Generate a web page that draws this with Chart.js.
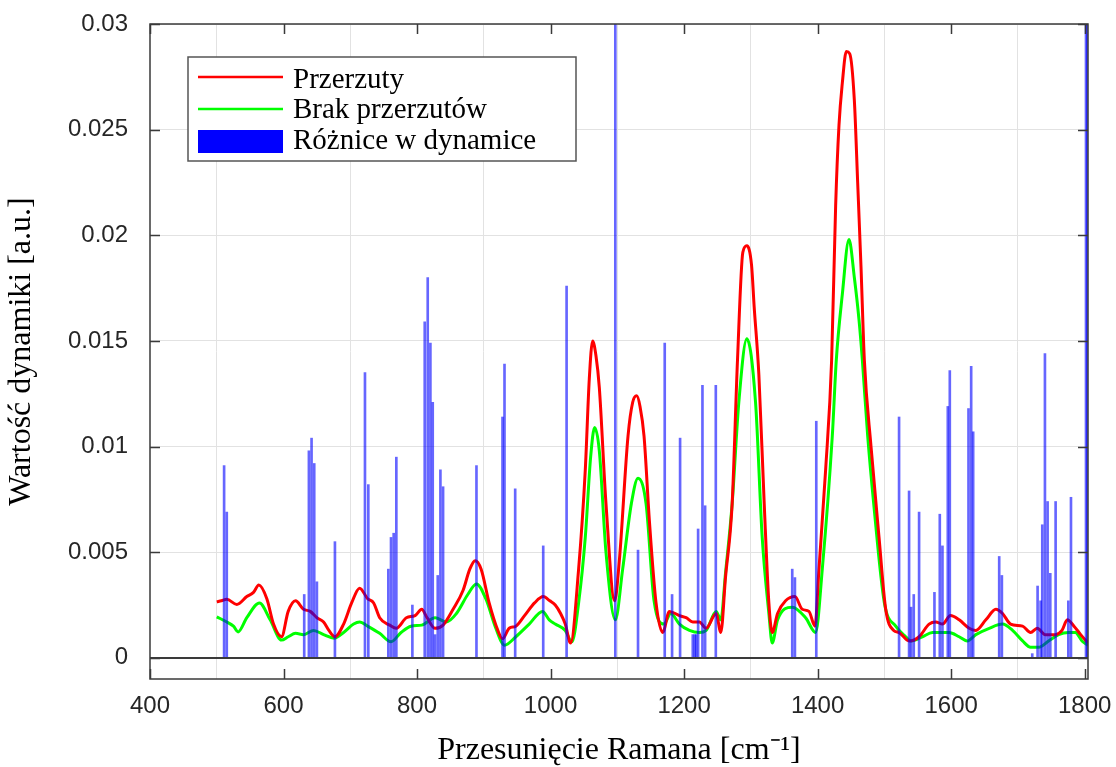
<!DOCTYPE html>
<html>
<head>
<meta charset="utf-8">
<script src="https://cdn.jsdelivr.net/npm/chart.js@4.4.0/dist/chart.umd.min.js"></script>
<style>
  html, body { margin: 0; padding: 0; background: #fff; }
  #chart { display: block; }
</style>
</head>
<body>
<canvas id="chart" width="1116" height="767"></canvas>
<script>
// Przerzuty (red line)
const shiftRed = [500, 507, 515, 530, 545, 555, 563, 575, 585, 597, 607, 618, 630, 640, 650, 660, 668, 677, 690, 702,
  714, 726, 735, 744, 759, 769, 784, 797, 807, 815, 827, 839, 854, 869, 879, 887, 896, 908, 921, 928,
  938, 948, 961, 976, 989, 999, 1007, 1015, 1022, 1030, 1042, 1052, 1058, 1063, 1068, 1073, 1083, 1096, 1103, 1116,
  1123, 1129, 1134, 1140, 1148, 1158, 1168, 1178, 1193, 1203, 1213, 1223, 1233, 1248, 1255, 1262, 1272, 1280, 1288, 1294,
  1301, 1305, 1312, 1320, 1327, 1332, 1340, 1352, 1366, 1377, 1387, 1396, 1402, 1412, 1421, 1427, 1432, 1437, 1443, 1448,
  1455, 1460, 1465, 1470, 1480, 1492, 1502, 1514, 1522, 1537, 1552, 1567, 1577, 1587, 1599, 1612, 1627, 1637, 1652, 1667,
  1677, 1689, 1707, 1719, 1729, 1741, 1756, 1766, 1774, 1784, 1794, 1805];
const przerzuty = [0.00265, 0.0027, 0.00277, 0.00253, 0.0029, 0.0031, 0.00345, 0.0028, 0.0016, 0.001, 0.0022, 0.0027, 0.0023, 0.0022, 0.0019, 0.0017, 0.0013, 0.001, 0.0016, 0.0026,
  0.0033, 0.0028, 0.0026, 0.0019, 0.00155, 0.0014, 0.0019, 0.002, 0.0023, 0.0019, 0.0014, 0.00155, 0.0023, 0.0032, 0.0042, 0.0046, 0.0042, 0.0026, 0.0013, 0.0009,
  0.0014, 0.0015, 0.002, 0.0026, 0.0029, 0.0027, 0.0025, 0.0021, 0.0016, 0.0007, 0.0042, 0.0089, 0.0132, 0.015, 0.0143, 0.0128, 0.0073, 0.0027, 0.0046, 0.0105,
  0.0121, 0.0124, 0.0119, 0.0105, 0.0065, 0.0026, 0.0012, 0.0022, 0.002, 0.0019, 0.0017, 0.0017, 0.0014, 0.0021, 0.0012, 0.0038, 0.0073, 0.0141, 0.0192, 0.0195,
  0.0186, 0.0166, 0.0134, 0.0073, 0.0026, 0.0012, 0.0021, 0.0027, 0.0029, 0.0023, 0.0022, 0.0015, 0.0042, 0.0089, 0.0141, 0.0214, 0.0252, 0.0272, 0.0287, 0.0286,
  0.0264, 0.0225, 0.0185, 0.0141, 0.0100, 0.0057, 0.0023, 0.0013, 0.0012, 0.0008, 0.001, 0.0016, 0.0017, 0.0016, 0.002, 0.0018, 0.0014, 0.0013, 0.0018, 0.0023,
  0.0021, 0.0016, 0.0015, 0.0012, 0.0014, 0.0011, 0.0011, 0.0013, 0.0018, 0.0015, 0.0011, 0.0007];

// Brak przerzutów (green line)
const shiftGreen = [500, 515, 525, 532, 545, 564, 580, 597, 607, 618, 630, 645, 660, 676, 690, 705, 714, 726, 744, 761,
  776, 791, 807, 827, 844, 859, 876, 889, 903, 918, 931, 948, 968, 988, 998, 1007, 1022, 1032, 1042, 1052,
  1060, 1066, 1073, 1083, 1097, 1108, 1121, 1131, 1143, 1155, 1170, 1180, 1193, 1208, 1223, 1233, 1248, 1255, 1262, 1272,
  1282, 1294, 1307, 1317, 1327, 1332, 1340, 1362, 1382, 1397, 1407, 1422, 1428, 1437, 1447, 1455, 1462, 1467, 1475, 1484,
  1500, 1517, 1532, 1540, 1557, 1572, 1597, 1612, 1624, 1637, 1657, 1677, 1692, 1707, 1719, 1731, 1746, 1761, 1776, 1786,
  1796, 1805];
const brakPrzerzutow = [0.00194, 0.0017, 0.0015, 0.00123, 0.0019, 0.0026, 0.0018, 0.00084, 0.001, 0.00116, 0.0011, 0.0013, 0.0011, 0.00093, 0.0012, 0.0016, 0.0017, 0.0015, 0.00116, 0.00076,
  0.0012, 0.0015, 0.00155, 0.0019, 0.0017, 0.0021, 0.003, 0.0035, 0.0028, 0.0014, 0.0006, 0.001, 0.0016, 0.0022, 0.0018, 0.0016, 0.0013, 0.00076, 0.0026, 0.0057,
  0.0095, 0.0109, 0.0098, 0.005, 0.0018, 0.0042, 0.0073, 0.0085, 0.0073, 0.0027, 0.0016, 0.0021, 0.0016, 0.0013, 0.0012, 0.0013, 0.0022, 0.0018, 0.0040, 0.0073,
  0.0121, 0.0151, 0.0121, 0.0057, 0.0021, 0.0007, 0.0018, 0.0024, 0.0019, 0.0012, 0.0042, 0.0105, 0.0141, 0.0172, 0.0198, 0.018, 0.016, 0.0141, 0.0105, 0.0073,
  0.0026, 0.0015, 0.001, 0.0008, 0.001, 0.0012, 0.0012, 0.001, 0.0008, 0.0011, 0.0014, 0.0016, 0.0013, 0.0008, 0.0005, 0.0005, 0.0008, 0.0011, 0.0012, 0.0012,
  0.0008, 0.0006];

// Różnice w dynamice (blue bars)
const barShift = [511, 515, 631, 638, 642, 646, 650, 677, 722, 727, 757, 761, 765, 769, 793, 811.5, 816, 820, 823.5, 827,
  831, 835, 839, 889, 928, 931, 947, 989, 1024, 1097, 1131, 1171, 1182, 1194, 1213, 1216, 1218, 1221, 1227.5, 1231.5,
  1247.5, 1362, 1366, 1398, 1522, 1537, 1540, 1544, 1552, 1575, 1583, 1587, 1595, 1598, 1626, 1630, 1633, 1672, 1676, 1721.5,
  1729.5, 1734, 1736.5, 1740.5, 1744.5, 1748.5, 1756.5, 1775.5, 1779.5, 1802, 1804];
const roznice = [0.0091, 0.0069, 0.003, 0.0098, 0.0104, 0.0092, 0.0036, 0.0055, 0.0135, 0.0082, 0.0042, 0.0057, 0.0059, 0.0095, 0.0025, 0.0159, 0.018, 0.0149, 0.0121, 0.0011,
  0.0039, 0.0089, 0.0081, 0.0091, 0.0114, 0.0139, 0.008, 0.0053, 0.0176, 0.035, 0.0051, 0.0149, 0.003, 0.0104, 0.0011, 0.0011, 0.0011, 0.0061, 0.0129, 0.0072,
  0.0129, 0.0042, 0.0038, 0.0112, 0.0114, 0.0079, 0.0024, 0.003, 0.0069, 0.0031, 0.0068, 0.0053, 0.0119, 0.0136, 0.0118, 0.0138, 0.0107, 0.0048, 0.0039, 0.0002,
  0.0034, 0.0027, 0.0063, 0.0144, 0.0074, 0.004, 0.0074, 0.0027, 0.0076, 0.035, 0.035];

const xTicks = [400, 600, 800, 1000, 1200, 1400, 1600, 1800];
const yTicks = [0, 0.005, 0.01, 0.015, 0.02, 0.025, 0.03];

const toPoints = (xs, ys) => xs.map((x, i) => ({ x: x, y: ys[i] }));

// MATLAB-like box: zero line, frame and inward ticks
const axisBox = {
  id: "axisBox",
  afterDatasetsDraw(chart) {
    const { ctx, chartArea: { left, right, top, bottom } } = chart;
    const x = chart.scales.x;
    const y = chart.scales.y;
    ctx.save();
    ctx.strokeStyle = "#3a3a3a";
    ctx.lineWidth = 2;
    const y0 = Math.round(y.getPixelForValue(0));
    ctx.beginPath();
    ctx.moveTo(left, y0);
    ctx.lineTo(right, y0);
    ctx.stroke();
    ctx.lineWidth = 1.5;
    ctx.strokeRect(left, top, right - left, bottom - top);
    ctx.beginPath();
    xTicks.forEach((v) => {
      const px = Math.round(x.getPixelForValue(v)) + 0.5;
      ctx.moveTo(px, bottom);
      ctx.lineTo(px, bottom - 10);
      ctx.moveTo(px, top);
      ctx.lineTo(px, top + 10);
    });
    yTicks.forEach((v) => {
      const py = Math.round(y.getPixelForValue(v)) + 0.5;
      ctx.moveTo(left, py);
      ctx.lineTo(left + 10, py);
      ctx.moveTo(right, py);
      ctx.lineTo(right - 10, py);
    });
    ctx.stroke();
    ctx.restore();
  },
};

const boxLegend = {
  id: "boxLegend",
  afterDraw(chart) {
    const { ctx, chartArea: { left, top } } = chart;
    const bx = left + 38;
    const by = top + 33;
    ctx.save();
    ctx.fillStyle = "#fff";
    ctx.fillRect(bx, by, 388, 104);
    ctx.strokeStyle = "#555";
    ctx.lineWidth = 1.5;
    ctx.strokeRect(bx, by, 388, 104);
    ctx.font = "29px 'Liberation Serif'";
    ctx.textBaseline = "alphabetic";
    ctx.textAlign = "left";
    const items = [
      { label: chart.data.datasets[1].label, color: "#ff0000", kind: "line", yy: 20, base: 31 },
      { label: chart.data.datasets[2].label, color: "#00ff00", kind: "line", yy: 52, base: 61 },
      { label: chart.data.datasets[0].label, color: "#0000ff", kind: "box", yy: 84, base: 92 },
    ];
    items.forEach((it) => {
      if (it.kind === "line") {
        ctx.strokeStyle = it.color;
        ctx.lineWidth = 2.5;
        ctx.beginPath();
        ctx.moveTo(bx + 10, by + it.yy);
        ctx.lineTo(bx + 95, by + it.yy);
        ctx.stroke();
      } else {
        ctx.fillStyle = it.color;
        ctx.fillRect(bx + 10, by + 73, 85, 23);
      }
      ctx.fillStyle = "#000";
      ctx.fillText(it.label, bx + 105, by + it.base);
    });
    ctx.restore();
  },
};

new Chart(document.getElementById("chart"), {
  type: "line",
  data: {
    datasets: [
      {
        type: "bar",
        label: "Różnice w dynamice",
        data: toPoints(barShift, roznice),
        backgroundColor: "rgba(0, 0, 255, 0.6)",
        borderWidth: 0,
        barThickness: 2,
        order: 0,
      },
      {
        label: "Przerzuty",
        data: toPoints(shiftRed, przerzuty),
        borderColor: "#ff0000",
        borderWidth: 3,
        pointRadius: 0,
        cubicInterpolationMode: "monotone",
        order: 1,
      },
      {
        label: "Brak przerzutów",
        data: toPoints(shiftGreen, brakPrzerzutow),
        borderColor: "#00ff00",
        borderWidth: 3,
        pointRadius: 0,
        cubicInterpolationMode: "monotone",
        order: 2,
      },
    ],
  },
  options: {
    responsive: false,
    devicePixelRatio: 1,
    animation: false,
    layout: { padding: { top: 24, right: 28, left: 0, bottom: 0 } },
    plugins: {
      legend: { display: false },
      tooltip: { enabled: false },
    },
    scales: {
      x: {
        type: "linear",
        min: 400,
        max: 1805,
        offset: false,
        afterBuildTicks: (s) => { s.ticks = xTicks.map((v) => ({ value: v })); },
        afterFit: (s) => { s.height = 88; },
        grid: { color: "#e2e2e2", lineWidth: 1, drawTicks: true, tickLength: 13, tickColor: "rgba(0,0,0,0)" },
        border: { display: false },
        ticks: {
          font: { family: "'Liberation Sans'", size: 24 },
          color: "#262626",
          padding: 0,
          maxRotation: 0,
          autoSkip: false,
          callback: (v) => String(v),
        },
        title: {
          display: true,
          text: "Przesunięcie Ramana [cm⁻¹]",
          font: { family: "'Liberation Serif'", size: 32, lineHeight: 1.0 },
          color: "#000",
          padding: { top: 0, bottom: 0 },
        },
      },
      y: {
        min: -0.001,
        max: 0.03,
        afterBuildTicks: (s) => { s.ticks = yTicks.map((v) => ({ value: v })); },
        afterFit: (s) => { s.width = 150; },
        grid: { color: "#e2e2e2", lineWidth: 1, drawTicks: true, tickLength: 22, tickColor: "rgba(0,0,0,0)" },
        border: { display: false },
        ticks: {
          font: { family: "'Liberation Sans'", size: 24 },
          color: "#262626",
          padding: 0,
          callback: (v) => String(+v.toFixed(3)),
        },
        title: {
          display: true,
          text: "Wartość dynamiki [a.u.]",
          font: { family: "'Liberation Serif'", size: 32 },
          color: "#000",
          padding: { top: 2, bottom: 0 },
        },
      },
    },
  },
  plugins: [axisBox, boxLegend],
});
</script>
</body>
</html>
